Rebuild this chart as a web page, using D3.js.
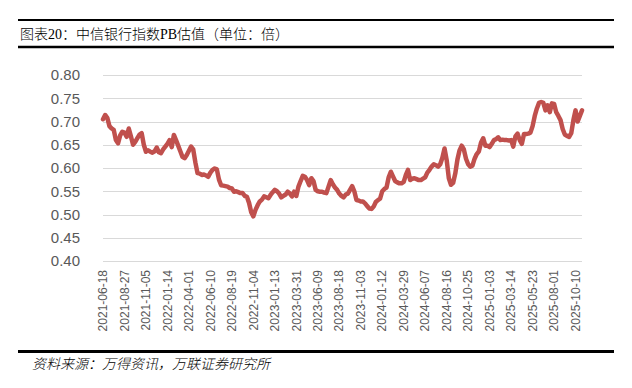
<!DOCTYPE html>
<html>
  <head>
    <meta charset="utf-8">
    <title>中信银行指数PB估值</title>
    <script src="https://d3js.org/d3.v7.min.js"></script>
    <style>
      body { margin: 0; background: #fff; }
    </style>
  </head>
  <body>
    <svg width="632" height="388"></svg>
    <script>
      const titleText = "图表20：中信银行指数PB估值（单位：倍）";
      const sourceText = "资料来源：万得资讯，万联证券研究所";

      // weekly PB, one value per week from 2021-06-18
      const pb = [
        0.705, 0.714, 0.708, 0.690, 0.685, 0.682, 0.660, 0.653, 0.670, 0.678,
        0.676, 0.667, 0.685, 0.668, 0.650, 0.656, 0.664, 0.672, 0.675, 0.650,
        0.635, 0.638, 0.635, 0.633, 0.636, 0.644, 0.634, 0.632, 0.640, 0.646,
        0.652, 0.660, 0.645, 0.671, 0.660, 0.648, 0.636, 0.624, 0.621, 0.628,
        0.637, 0.646, 0.640, 0.612, 0.589, 0.588, 0.585, 0.586, 0.584, 0.581,
        0.590, 0.596, 0.599, 0.597, 0.575, 0.563, 0.562, 0.561, 0.560, 0.557,
        0.556, 0.549, 0.550, 0.548, 0.546, 0.546, 0.540, 0.538, 0.525, 0.505,
        0.496, 0.510, 0.520, 0.528, 0.532, 0.539, 0.537, 0.535, 0.542, 0.548,
        0.553, 0.550, 0.545, 0.537, 0.540, 0.543, 0.549, 0.545, 0.539, 0.549,
        0.540, 0.560, 0.572, 0.583, 0.581, 0.574, 0.563, 0.578, 0.572, 0.553,
        0.550, 0.549, 0.549, 0.547, 0.546, 0.560, 0.574, 0.565, 0.558, 0.553,
        0.545, 0.540, 0.537, 0.543, 0.545, 0.553, 0.561, 0.550, 0.531, 0.530,
        0.528, 0.528, 0.524, 0.518, 0.513, 0.512, 0.517, 0.527, 0.531, 0.534,
        0.550, 0.555, 0.558, 0.580, 0.592, 0.582, 0.572, 0.569, 0.567, 0.567,
        0.570, 0.585, 0.596, 0.574, 0.577, 0.578, 0.576, 0.574, 0.574, 0.577,
        0.580, 0.590, 0.596, 0.603, 0.608, 0.606, 0.603, 0.608, 0.622, 0.642,
        0.617, 0.578, 0.564, 0.568, 0.588, 0.618, 0.638, 0.648, 0.640, 0.620,
        0.608, 0.603, 0.605, 0.620, 0.630, 0.636, 0.655, 0.664, 0.648, 0.648,
        0.645, 0.652, 0.660, 0.662, 0.666, 0.660, 0.661, 0.660, 0.660, 0.659,
        0.660, 0.646, 0.668, 0.674, 0.660, 0.652, 0.673, 0.673, 0.674, 0.676,
        0.690, 0.712, 0.728, 0.740, 0.742, 0.740, 0.724, 0.735, 0.720, 0.739,
        0.738, 0.720, 0.712, 0.703, 0.684, 0.672, 0.669, 0.667, 0.675, 0.703,
        0.724, 0.700, 0.712, 0.724
      ];

      // category labels shown every 10th week
      const dateTicks = [
        "2021-06-18", "2021-08-27", "2021-11-05", "2022-01-14", "2022-04-01",
        "2022-06-10", "2022-08-19", "2022-11-04", "2023-01-13", "2023-03-31",
        "2023-06-09", "2023-08-18", "2023-11-03", "2024-01-12", "2024-03-29",
        "2024-06-07", "2024-08-16", "2024-10-25", "2025-01-03", "2025-03-14",
        "2025-05-23", "2025-08-01", "2025-10-10"
      ];
      const tickStep = 10;
      const yTicks = [0.40, 0.45, 0.50, 0.55, 0.60, 0.65, 0.70, 0.75, 0.80];

      const svg = d3.select("svg");
      const W = +svg.attr("width");

      svg.append("rect").attr("width", W).attr("height", 388).attr("fill", "#fff");

      // header / footer rules
      const rule = (y, w) => svg.append("line")
        .attr("x1", 18).attr("x2", 614).attr("y1", y).attr("y2", y)
        .attr("stroke", "#000").attr("stroke-width", w);
      rule(20, 2);
      rule(47, 2.5);
      rule(351.5, 3);

      svg.append("text")
        .attr("x", 20).attr("y", 38.5)
        .attr("font-family", "'Liberation Serif', 'Noto Sans CJK SC', serif")
        .attr("font-size", 14)
        .attr("font-weight", 300)
        .attr("fill", "#000")
        .text(titleText);

      svg.append("text")
        .attr("x", 32).attr("y", 369)
        .attr("font-family", "'Noto Sans CJK SC', sans-serif")
        .attr("font-size", 14)
        .attr("font-style", "italic")
        .attr("font-weight", 300)
        .attr("fill", "#000")
        .text(sourceText);

      const x = d3.scaleLinear().domain([0, pb.length - 1]).range([103, 582]);
      const y = d3.scaleLinear().domain([0.40, 0.80]).range([261, 75]);

      // gridlines
      svg.append("g")
        .selectAll("line")
        .data(yTicks)
        .join("line")
          .attr("x1", x.range()[0]).attr("x2", x.range()[1])
          .attr("y1", d => Math.round(y(d)) + 0.5)
          .attr("y2", d => Math.round(y(d)) + 0.5)
          .attr("stroke", "#d9d9d9").attr("stroke-width", 1.2);

      // y labels
      svg.append("g")
        .selectAll("text")
        .data(yTicks)
        .join("text")
          .attr("x", 80)
          .attr("y", d => y(d))
          .attr("dy", "0.35em")
          .attr("text-anchor", "end")
          .attr("font-family", "'Liberation Sans', Arial, sans-serif")
          .attr("font-size", 15)
          .attr("fill", "#595959")
          .text(d => d3.format(".2f")(d));

      // x labels (rotated)
      svg.append("g")
        .selectAll("text")
        .data(dateTicks)
        .join("text")
          .attr("transform", (d, i) => `translate(${x(i * tickStep)},270) rotate(-90)`)
          .attr("dy", "0.35em")
          .attr("text-anchor", "end")
          .attr("font-family", "'Liberation Sans', Arial, sans-serif")
          .attr("font-size", 12)
          .attr("fill", "#595959")
          .text(d => d);

      const line = d3.line()
        .x((d, i) => x(i))
        .y(d => y(d));

      svg.append("path")
        .datum(pb)
        .attr("d", line)
        .attr("fill", "none")
        .attr("stroke", "#c0504d")
        .attr("stroke-width", 4.5)
        .attr("stroke-linejoin", "round")
        .attr("stroke-linecap", "round");
    </script>
  </body>
</html>
